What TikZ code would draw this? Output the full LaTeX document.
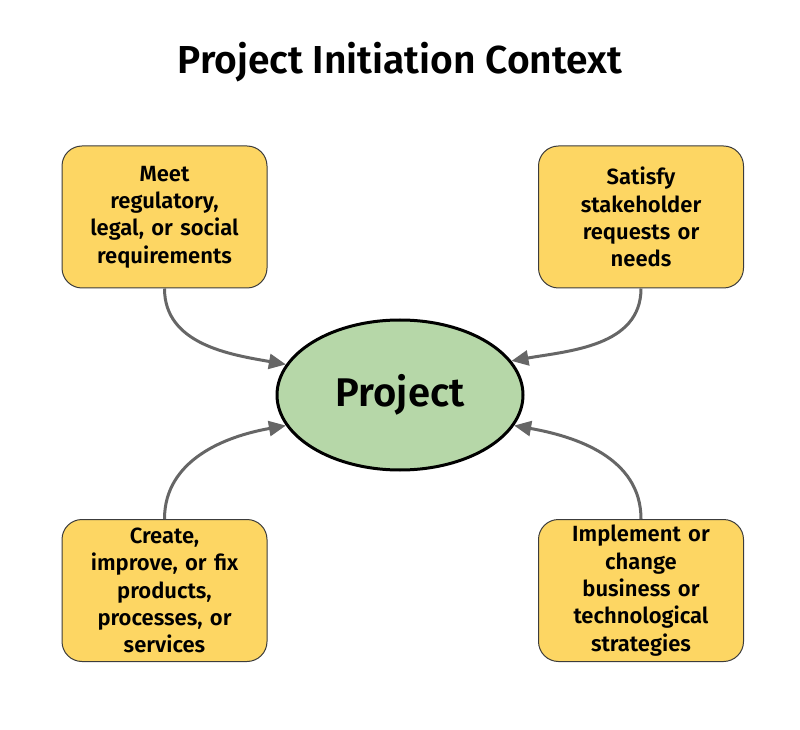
\documentclass[tikz,border=0pt]{standalone}
\usepackage{fontspec}
\setmainfont{Fira Sans}[BoldFont={Fira Sans SemiBold}]
\usetikzlibrary{arrows.meta,shapes.geometric}
\definecolor{boxfill}{HTML}{FDD663}
\definecolor{boxline}{HTML}{3C3C3C}
\definecolor{ellfill}{HTML}{B6D7A8}
\definecolor{arrowgray}{HTML}{666666}
\begin{document}
\begin{tikzpicture}[x=1pt,y=1pt,
  reason/.style={draw=boxline, line width=1pt, fill=boxfill, rounded corners=20pt,
    minimum width=205pt, minimum height=142pt, inner sep=0pt, align=center,
    text width=200pt, font=\fontsize{22}{27.3}\selectfont\bfseries},
  proj/.style={ellipse, draw=black, line width=3pt, fill=ellfill, minimum width=246pt,
    minimum height=150pt, inner sep=0pt, font=\fontsize{40}{44}\selectfont\bfseries},
  link/.style={draw=arrowgray, line width=3pt, -{Triangle[length=17pt,width=15pt]}}
]
\useasboundingbox (0,0) rectangle (800,729);
\node[font=\fontsize{39}{44}\selectfont\bfseries] (title) at (400,667) {Project Initiation Context};
\node[proj] (p) at (400,334) {Project};
\node[reason] (tl) at (164.5,512) {Meet\\regulatory,\\legal, or social\\requirements};
\node[reason] (tr) at (641,512) {Satisfy\\stakeholder\\requests or\\needs};
\node[reason] (bl) at (164.5,138.5) {Create,\\improve, or fix\\products,\\processes, or\\services};
\node[reason] (br) at (641,138.5) {Implement or\\change\\business or\\technological\\strategies};
\draw[link] (tl.south) to[out=-90, in=170] (p.165);
\draw[link] (tr.south) to[out=-90, in=10] (p.17);
\draw[link] (bl.north) to[out=90, in=190] (p.195);
\draw[link] (br.north) to[out=90, in=-10] (p.-15);
\end{tikzpicture}
\end{document}
